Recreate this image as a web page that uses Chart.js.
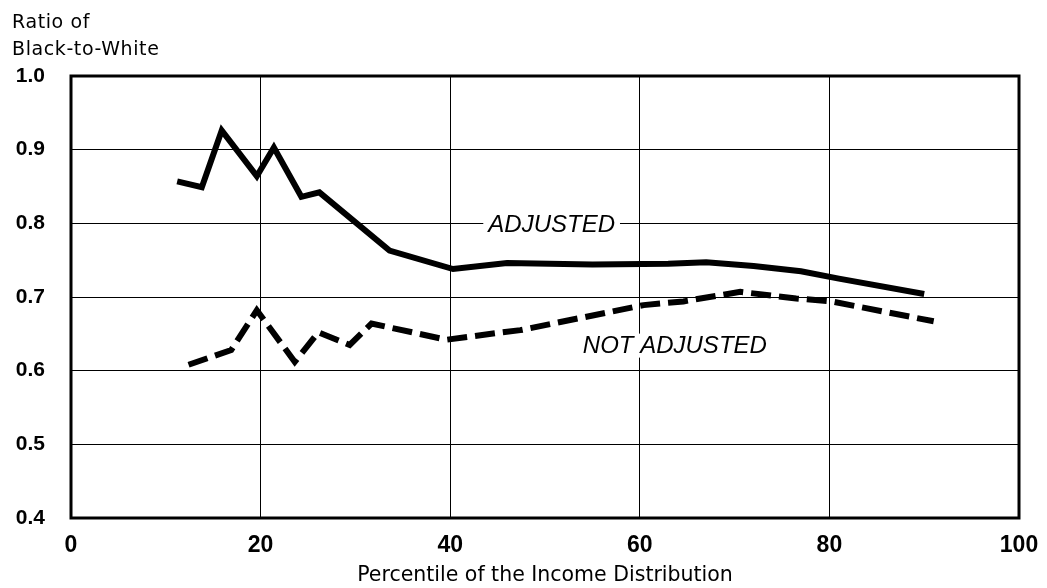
<!DOCTYPE html>
<html lang="en">
    <head>
        <meta charset="utf-8" />
        <script src="https://cdn.jsdelivr.net/npm/chart.js@4.4.0/dist/chart.umd.min.js"></script>
        <title>Ratio of Black-to-White</title>
        <style>
            body { margin: 0; background: #fff; }
            #wrap { width: 1047px; height: 588px; }
        </style>
    </head>
    <body>
        <div id="wrap"><canvas id="grafico" width="1047" height="588"></canvas></div>
        <script>
            // percentiles and ratios
            const adjustedX = [11.2, 13.8, 15.9, 19.6, 21.4, 24.3, 26.2, 33.6, 40.3, 46, 55, 63, 67, 72, 77, 81, 90];
            const adjustedY = [0.857, 0.849, 0.926, 0.864, 0.903, 0.836, 0.842, 0.763, 0.738, 0.746, 0.744, 0.745, 0.747, 0.742, 0.735, 0.725, 0.704];
            const notAdjustedX = [12.4, 16.9, 19.6, 23.6, 26.1, 29.4, 31.7, 39.6, 44.9, 47.4, 60.4, 64.6, 70.6, 76.5, 80.2, 91.0];
            const notAdjustedY = [0.608, 0.628, 0.682, 0.612, 0.652, 0.635, 0.664, 0.642, 0.651, 0.655, 0.689, 0.694, 0.707, 0.698, 0.694, 0.667];
            const xTicks = [0, 20, 40, 60, 80, 100];
            const yTicks = [0.4, 0.5, 0.6, 0.7, 0.8, 0.9, 1.0];

            const puntos = (xs, ys) => xs.map((x, i) => ({x: x, y: ys[i]}));

            const marco = {
                id: "marco",
                afterDraw(chart) {
                    const {ctx, chartArea: a, scales} = chart;
                    ctx.save();
                    ctx.strokeStyle = "#000";
                    ctx.lineWidth = 3;
                    ctx.strokeRect(a.left, a.top, a.right - a.left, a.bottom - a.top);

                    ctx.fillStyle = "#000";
                    ctx.font = "19px 'DejaVu Sans', sans-serif";
                    ctx.letterSpacing = "0.6px";
                    ctx.textAlign = "left";
                    ctx.textBaseline = "alphabetic";
                    ctx.fillText("Ratio of", 12, 28);
                    ctx.fillText("Black-to-White", 12, 55);
                    ctx.letterSpacing = "0px";

                    // series labels
                    ctx.font = "italic 24px 'Liberation Sans', Arial, sans-serif";
                    ctx.textBaseline = "middle";
                    const etiquetas = [["ADJUSTED", 50.7, 0.798], ["NOT ADJUSTED", 63.7, 0.634]];
                    etiquetas.forEach(([t, x, y]) => {
                        const px = scales.x.getPixelForValue(x);
                        const py = scales.y.getPixelForValue(y);
                        const w = ctx.measureText(t).width;
                        ctx.fillStyle = "#fff";
                        ctx.fillRect(px - w / 2 - 5, py - 12, w + 10, 24);
                        ctx.fillStyle = "#000";
                        ctx.textAlign = "center";
                        ctx.fillText(t, px, py + 1);
                    });
                    ctx.restore();
                }
            };

            new Chart(document.getElementById("grafico").getContext("2d"), {
                type: "line",
                data: {
                    datasets: [
                        {label: "ADJUSTED", data: puntos(adjustedX, adjustedY), borderColor: "#000", borderWidth: 6, pointRadius: 0, tension: 0},
                        {label: "NOT ADJUSTED", data: puntos(notAdjustedX, notAdjustedY), borderColor: "#000", borderWidth: 6, borderDash: [20, 8], pointRadius: 0, tension: 0}
                    ]
                },
                options: {
                    responsive: false,
                    animation: false,
                    layout: {padding: {top: 76, right: 28, left: 0, bottom: 0}},
                    plugins: {legend: {display: false}, tooltip: {enabled: false}},
                    scales: {
                        x: {
                            type: "linear",
                            min: 0,
                            max: 100,
                            afterBuildTicks: (s) => { s.ticks = xTicks.map((v) => ({value: v})); },
                            afterFit: (s) => { s.height = 70; s.paddingRight = 0; s.paddingLeft = 0; },
                            grid: {color: "#000", lineWidth: 1, drawTicks: false},
                            border: {display: false},
                            ticks: {color: "#000", padding: 14, font: {family: "'Liberation Sans', Arial, sans-serif", size: 23, weight: "bold"}},
                            title: {display: true, text: "Percentile of the Income Distribution", color: "#000", padding: {top: 4, bottom: 0}, font: {family: "'DejaVu Sans', sans-serif", size: 20.5}}
                        },
                        y: {
                            min: 0.4,
                            max: 1.0,
                            afterBuildTicks: (s) => { s.ticks = yTicks.map((v) => ({value: v})); },
                            afterFit: (s) => { s.width = 71; },
                            grid: {color: "#000", lineWidth: 1, drawTicks: false},
                            border: {display: false},
                            ticks: {color: "#000", padding: 26, font: {family: "'Liberation Sans', Arial, sans-serif", size: 21, weight: "bold"}, callback: (v) => v.toFixed(1)}
                        }
                    }
                },
                plugins: [marco]
            });
        </script>
    </body>
</html>
